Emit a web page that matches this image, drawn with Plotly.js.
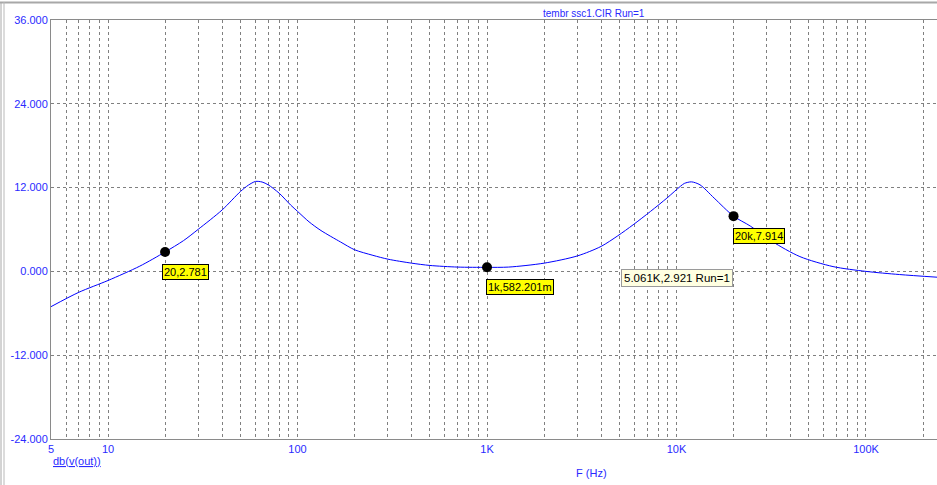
<!DOCTYPE html>
<html>
<head>
<meta charset="utf-8">
<script src="https://cdn.plot.ly/plotly-3.0.1.min.js"></script>
<style>
html,body{margin:0;padding:0;background:#fff;}
#chart{width:937px;height:485px;}
</style>
</head>
<body>
<div id="chart"></div>
<script>
// Frequency (Hz) and magnitude db(v(out))
const freqHz = [5, 7, 10, 14.7, 20, 25, 30, 40, 50, 55, 60, 65, 70, 80, 92, 100, 115, 133, 169, 200, 250, 300, 400, 500, 700, 1000, 1300, 2000, 3000, 4000, 4900, 5900, 7300, 8900, 10500, 11000, 12000, 13300, 15800, 20000, 24500, 32000, 44800, 67000, 100000, 150000, 237000];
const dbOut = [-5.05, -3.0, -1.3, 0.75, 2.781, 4.4, 6.05, 8.8, 11.45, 12.35, 12.88, 12.8, 12.4, 11.2, 9.5, 8.6, 7.1, 5.85, 4.2, 3.1, 2.3, 1.75, 1.18, 0.85, 0.62, 0.582, 0.62, 1.18, 2.22, 3.58, 5.1, 6.67, 8.6, 10.5, 12.2, 12.6, 12.82, 12.4, 10.5, 7.914, 6.5, 4.28, 2.12, 0.69, 0.0, -0.45, -0.83];

// Marker cursors
const markX = [20, 1000, 20000];
const markY = [2.781, 0.582201, 7.914];
const markLabels = ["20,2.781", "1k,582.201m", "20k,7.914"];

// Axis ticks
const xGrid = [5,6,7,8,9,10,20,30,40,50,60,70,80,90,100,200,300,400,500,600,700,800,900,1000,2000,3000,4000,5000,6000,7000,8000,9000,10000,20000,30000,40000,50000,60000,70000,80000,90000,100000,200000];
const xMajor = {5:"5",10:"10",100:"100",1000:"1K",10000:"10K",100000:"100K"};
const yTicks = [-24, -12, 0, 12, 24, 36];
const yTickText = ["-24.000", "-12.000", "0.000", "12.000", "24.000", "36.000"];

const titleText = "tembr ssc1.CIR Run=1";
const yName = "db(v(out))";
const xName = "F (Hz)";
const cursorText = "5.061K,2.921 Run=1";
const cursorX = 5061, cursorY = 2.921;

const FONT = "Arial, 'Liberation Sans', sans-serif";
const BLUE = "#2a2aff";

const traces = [
  {x: freqHz, y: dbOut, type: "scatter", mode: "lines",
   line: {color: "#0000ff", width: 1, shape: "spline", smoothing: 0.8}, hoverinfo: "skip"},
  {x: markX, y: markY, type: "scatter", mode: "markers",
   marker: {color: "#000", size: 10}, hoverinfo: "skip"}
];

const annotations = markLabels.map((t, i) => ({
  x: Math.log10(markX[i]), y: markY[i], xref: "x", yref: "y",
  text: t, showarrow: false, xanchor: "left", yanchor: "top",
  xshift: i === 0 ? -3 : -1, yshift: -12,
  font: {family: FONT, size: 11, color: "#000"},
  bgcolor: "#ffff00", bordercolor: "#000", borderwidth: 1, borderpad: 1
}));
annotations.push({
  x: Math.log10(cursorX), y: cursorY, xref: "x", yref: "y",
  text: cursorText, showarrow: false, xanchor: "left", yanchor: "top",
  xshift: 1, yshift: -18,
  font: {family: FONT, size: 11.5, color: "#000"},
  bgcolor: "#ffffe1", bordercolor: "#9a9a9a", borderwidth: 1, borderpad: 2
});
annotations.push({
  x: 0.6725, y: 1, xref: "paper", yref: "paper", yanchor: "bottom", yshift: -1,
  text: titleText, showarrow: false,
  font: {family: FONT, size: 10, color: BLUE}
});
annotations.push({
  x: 0, y: 0, xref: "paper", yref: "paper", xanchor: "left", yanchor: "top", yshift: -14,
  text: '<span style="text-decoration:underline">' + yName + '</span>', showarrow: false,
  font: {family: FONT, size: 11, color: BLUE}
});
annotations.push({
  x: 0.61, y: 0, xref: "paper", yref: "paper", yanchor: "top", yshift: -26,
  text: xName, showarrow: false,
  font: {family: FONT, size: 11, color: BLUE}
});

const W = 886, H = 419;
const shapes = [
  {type: "line", xref: "paper", yref: "paper", x0: -51/W, x1: 1, y0: (439-2.5)/H, y1: (439-2.5)/H, line: {color: "#a8a8a8", width: 2}},
  {type: "line", xref: "paper", yref: "paper", x0: -50/W, x1: -50/W, y0: -46/H, y1: (439-2)/H, line: {color: "#a8a8a8", width: 1}},
  {type: "line", xref: "paper", yref: "paper", x0: -47/W, x1: -47/W, y0: -46/H, y1: (439-2)/H, line: {color: "#b8b8b8", width: 1}}
];

const layout = {
  width: 937, height: 485,
  margin: {l: 51, r: 0, t: 20, b: 46, pad: 0},
  paper_bgcolor: "#fff", plot_bgcolor: "#fff",
  showlegend: false,
  font: {family: FONT, size: 11, color: BLUE},
  xaxis: {
    type: "log", range: [Math.log10(5), Math.log10(237000)],
    tickvals: xGrid, ticktext: xGrid.map(v => xMajor[v] || ""),
    showgrid: true, gridcolor: "#808080", griddash: "3px,3px", gridwidth: 1,
    showline: true, linecolor: "#8a8a8a", linewidth: 1, mirror: true,
    ticks: "", zeroline: false, fixedrange: true,
    tickfont: {family: FONT, size: 11, color: BLUE}
  },
  yaxis: {
    range: [-24, 36], tickvals: yTicks, ticktext: yTickText,
    showgrid: true, gridcolor: "#808080", griddash: "3px,3px", gridwidth: 1,
    showline: true, linecolor: "#8a8a8a", linewidth: 1,
    ticks: "", zeroline: false, fixedrange: true,
    tickfont: {family: FONT, size: 11, color: BLUE}
  },
  annotations: annotations,
  shapes: shapes
};

Plotly.newPlot("chart", traces, layout, {displayModeBar: false, staticPlot: true});
</script>
</body>
</html>
